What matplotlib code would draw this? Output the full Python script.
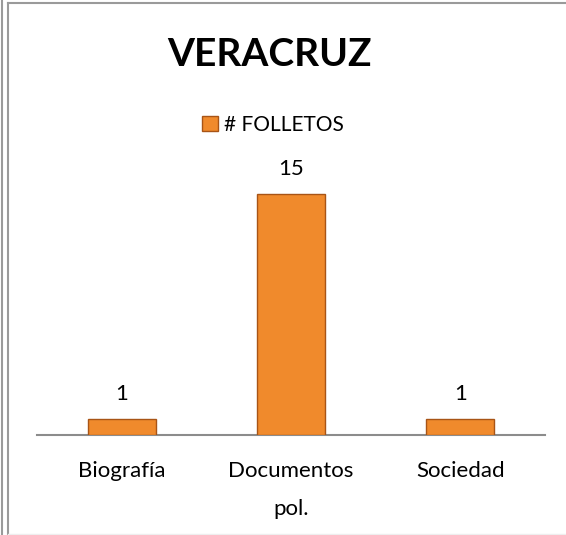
import matplotlib
matplotlib.use("Agg")
import matplotlib.pyplot as plt
from matplotlib.lines import Line2D

categories = ["Biografía", "Documentos\npol.", "Sociedad"]
folletos = [1, 15, 1]
series_name = "# FOLLETOS"
title = "VERACRUZ"

plt.rcParams['font.family'] = ['Lato', 'DejaVu Sans']

fig = plt.figure(figsize=(5.66, 5.35), dpi=100)
W, H = 566, 535
ax = fig.add_axes([37 / W, 1 - 435 / H, (545 - 37) / W, (435 - 160) / H])

x = range(len(categories))
bars = ax.bar(x, folletos, width=0.4, color="#F08A2C", edgecolor="#A85416",
              linewidth=1.0, label=series_name, zorder=3)
ax.set_xlim(-0.5, len(categories) - 0.5)
ax.set_ylim(0, 17.1)

for b, v in zip(bars, folletos):
    ax.annotate(str(v), (b.get_x() + b.get_width() / 2, v),
                xytext=(0, 18), textcoords="offset points",
                ha="center", va="center", fontsize=16, color="black")

ax.set_xticks(list(x))
ax.set_xticklabels(categories, fontsize=16, linespacing=2.1, va="top")
ax.tick_params(axis="x", length=0, pad=19)
ax.set_yticks([])
for s in ["left", "right", "top"]:
    ax.spines[s].set_visible(False)
ax.spines["bottom"].set_color("#8c8c8c")
ax.spines["bottom"].set_linewidth(1.5)

fig.text(269 / W, 1 - 55 / H, title, ha="center", va="center",
         fontsize=28, fontweight="bold")
fig.legend(handles=[bars[0]], labels=[series_name], loc="center",
           bbox_to_anchor=(273 / W, 1 - 125 / H), frameon=False,
           fontsize=15, handlelength=0.75, handleheight=0.75, handletextpad=0.3)

# chart frame
fig.add_artist(Line2D([1.5 / W, 1.5 / W], [0, 1], color="#9a9a9a", lw=1.5))
fig.add_artist(Line2D([7.5 / W, 7.5 / W], [0, 1 - 2.5 / H], color="#9a9a9a", lw=1.5))
fig.add_artist(Line2D([7.5 / W, 1], [1 - 2.5 / H, 1 - 2.5 / H], color="#9a9a9a", lw=1.5))
fig.add_artist(Line2D([7.5 / W, 1], [1.5 / H, 1.5 / H], color="#eeeeee", lw=1.0))

fig.savefig("out.png", dpi=100)
